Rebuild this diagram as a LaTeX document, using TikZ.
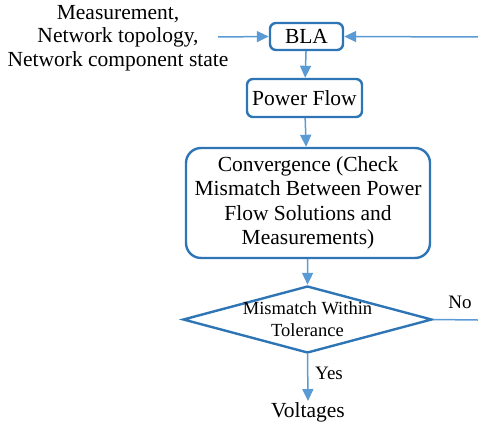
\documentclass[tikz,border=0pt]{standalone}
\usepackage{fontspec}
\setmainfont{Liberation Serif}
\usetikzlibrary{arrows.meta,shapes.geometric}

\begin{document}
\begin{tikzpicture}[x=1pt,y=-1pt,
    box/.style={draw=boxblue,line width=2.4pt,rounded corners=6pt,inner sep=0pt,
      font=\fontsize{21.5}{24.5}\selectfont},
    flow/.style={draw=arrowblue,line width=1.5pt,-{Triangle[width=11pt,length=12pt]}},
    txt/.style={inner sep=1pt,font=\fontsize{21.5}{23.5}\selectfont,align=center}]
    \definecolor{boxblue}{RGB}{46,117,182}
    \definecolor{arrowblue}{RGB}{91,155,213}
    \useasboundingbox (0,0) rectangle (478,428);
    \node[txt] (inputs) at (118,38) {Measurement,\\Network topology,\\Network component state};
    \node[box,minimum width=73pt,minimum height=27pt] (bla) at (306.5,36.5) {BLA};
    \node[box,minimum width=115pt,minimum height=38pt] (pf) at (304.5,98) {Power Flow};
    \node[box,rounded corners=15pt,minimum width=244pt,minimum height=110pt,align=center] (conv) at (308,203)
        {Convergence (Check\\Mismatch Between Power\\Flow Solutions and\\Measurements)};
    \node[diamond,draw=boxblue,line width=2.4pt,minimum width=249pt,minimum height=67pt,inner sep=0pt] (tol) at (307.5,319.5) {};
    \node[txt,font=\fontsize{18.5}{22}\selectfont] (tollabel) at (tol) {Mismatch Within\\Tolerance};
    \node[txt] (volt) at (308,412) {Voltages};
    \node[txt,font=\fontsize{19}{22}\selectfont] (no) at (460,302) {No};
    \node[txt,font=\fontsize{19}{22}\selectfont,anchor=west] (yes) at (314,373) {Yes};
    \coordinate (in) at (218,37);
    \coordinate (back) at (478,37);
    \coordinate (loop) at (478,320);
    \draw[flow] (in) -- (bla.west);
    \draw[flow] (back) -- (bla.east);
    \draw[flow] (bla) -- (pf);
    \draw[flow] (pf) -- (conv);
    \draw[flow] (conv) -- (tol.north);
    \draw[flow] (tol.south) -- (volt.north);
    \draw[draw=arrowblue,line width=1.5pt] (tol.east) -- (loop);
\end{tikzpicture}
\end{document}
